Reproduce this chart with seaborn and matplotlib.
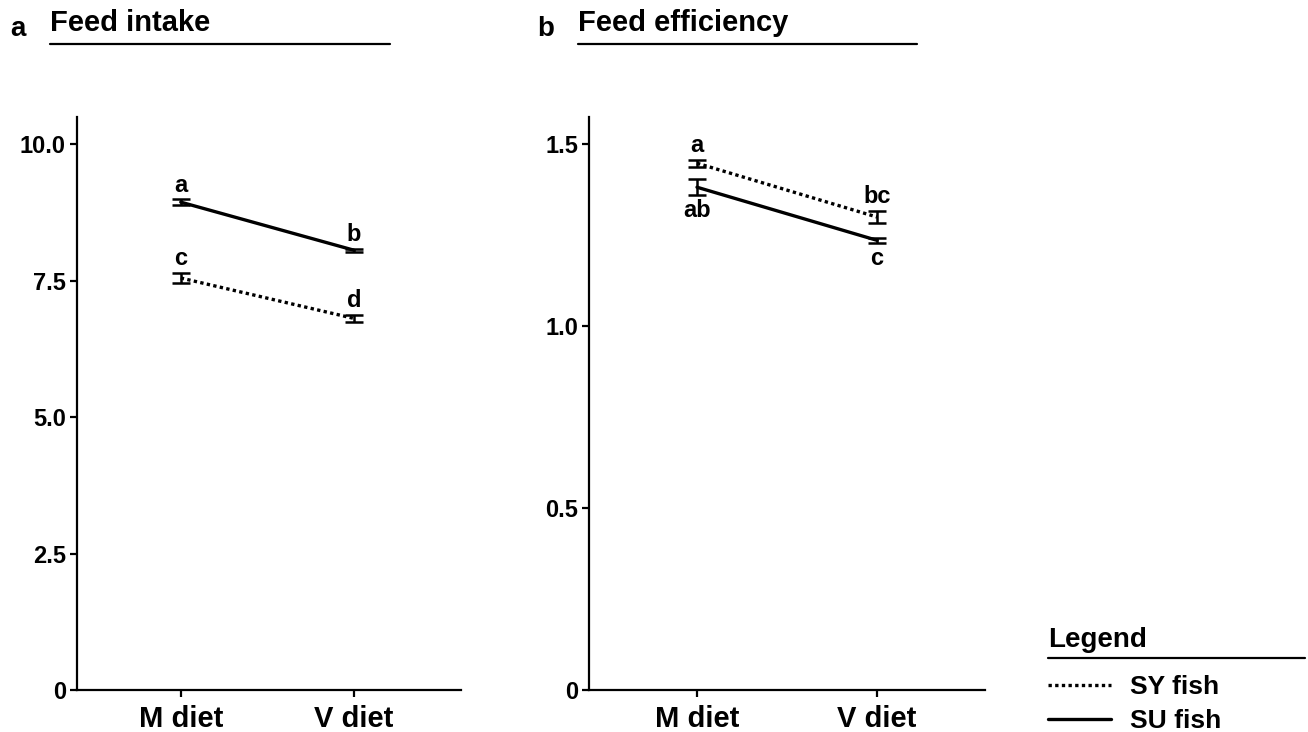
import pandas as pd
import matplotlib.pyplot as plt
import seaborn as sns
from matplotlib.lines import Line2D

# values
diets = ['M diet', 'V diet']
fish = ['SY fish', 'SU fish']

intake_sy = [7.55, 6.81]
intake_sy_se = [0.10, 0.07]
intake_su = [8.94, 8.06]
intake_su_se = [0.05, 0.03]
intake_letters_sy = ['c', 'd']
intake_letters_su = ['a', 'b']

eff_sy = [1.448, 1.300]
eff_sy_se = [0.010, 0.016]
eff_su = [1.382, 1.236]
eff_su_se = [0.022, 0.007]
eff_letters_sy = ['a', 'bc']
eff_letters_su = ['ab', 'c']

sns.set_style('ticks')
plt.rcParams['font.family'] = ['Liberation Sans', 'DejaVu Sans']
plt.rcParams['font.weight'] = 'bold'
for k in ['text.color', 'axes.labelcolor', 'xtick.color', 'ytick.color', 'axes.edgecolor']:
    plt.rcParams[k] = 'black'

W, H = 1308, 732
fig = plt.figure(figsize=(W / 100, H / 100), dpi=100)


def make_df(sy, sy_se, su, su_se):
    return pd.DataFrame({
        'diet': diets * 2,
        'fish': [fish[0]] * 2 + [fish[1]] * 2,
        'value': sy + su,
        'se': sy_se + su_se,
    })


def draw(ax, df, letters_sy, letters_su, above_sy, above_su):
    sns.lineplot(data=df, x='diet', y='value', style='fish', style_order=fish,
                 dashes={'SY fish': (1, 1), 'SU fish': ''}, color='black',
                 linewidth=2.4, ax=ax, legend=True)
    for f, letters, above in [(fish[0], letters_sy, above_sy), (fish[1], letters_su, above_su)]:
        sub = df[df['fish'] == f]
        xs = [diets.index(d) for d in sub['diet']]
        ax.errorbar(xs, sub['value'], yerr=sub['se'], fmt='none', ecolor='black',
                    elinewidth=1.8, capsize=6.5, capthick=1.8, zorder=3)
        for x, v, s, lab, up in zip(xs, sub['value'], sub['se'], letters, above):
            if up:
                ax.annotate(lab, (x, v + s), xytext=(0, 2), textcoords='offset points',
                            ha='center', va='bottom', fontsize=17, fontweight='bold')
            else:
                ax.annotate(lab, (x, v - s), xytext=(0, -3), textcoords='offset points',
                            ha='center', va='top', fontsize=17, fontweight='bold')
    ax.set_xlabel('')
    ax.set_ylabel('')
    for sp in ['top', 'right']:
        ax.spines[sp].set_visible(False)
    for sp in ['left', 'bottom']:
        ax.spines[sp].set_linewidth(1.6)
    ax.tick_params(axis='both', width=1.6, length=5, direction='out', color='black')
    ax.tick_params(axis='x', labelsize=21, pad=6)
    ax.tick_params(axis='y', labelsize=17, pad=3)
    for t in ax.get_xticklabels() + ax.get_yticklabels():
        t.set_fontweight('bold')


top_px, bot_px = 117, 690
ax1 = fig.add_axes([77 / W, 1 - bot_px / H, (461 - 77) / W, (bot_px - top_px) / H])
draw(ax1, make_df(intake_sy, intake_sy_se, intake_su, intake_su_se),
     intake_letters_sy, intake_letters_su, [True, True], [True, True])
ax1.set_xlim(-0.6, 1.62)
ax1.set_ylim(0, 10.5)
ax1.set_yticks([0, 2.5, 5.0, 7.5, 10.0])
ax1.set_yticklabels(['0', '2.5', '5.0', '7.5', '10.0'])

ax2 = fig.add_axes([589 / W, 1 - bot_px / H, (985 - 589) / W, (bot_px - top_px) / H])
draw(ax2, make_df(eff_sy, eff_sy_se, eff_su, eff_su_se),
     eff_letters_sy, eff_letters_su, [True, True], [False, False])
ax2.set_xlim(-0.6, 1.6)
ax2.set_ylim(0, 1.575)
ax2.set_yticks([0, 0.5, 1.0, 1.5])
ax2.set_yticklabels(['0', '0.5', '1.0', '1.5'])

handles, labels = ax2.get_legend_handles_labels()
ax1.get_legend().remove()
ax2.get_legend().remove()

# panel titles with underline
for letter, title, lx, tx, x1 in [('a', 'Feed intake', 10, 50, 390), ('b', 'Feed efficiency', 537, 578, 917)]:
    fig.text(lx / W, 1 - 29 / H, letter, fontsize=20, fontweight='bold', va='center')
    fig.text(tx / W, 1 - 23 / H, title, fontsize=21, fontweight='bold', va='center')
    fig.add_artist(Line2D([tx / W, x1 / W], [1 - 44 / H, 1 - 44 / H], color='black', lw=1.6))

# legend block
fig.text(1048 / W, 1 - 640 / H, 'Legend', fontsize=20, fontweight='bold', va='center')
fig.add_artist(Line2D([1048 / W, 1305 / W], [1 - 658 / H, 1 - 658 / H], color='black', lw=1.6))
leg = fig.legend(handles, labels, loc='upper left', bbox_to_anchor=(1048 / W, 1 - 675 / H),
                 frameon=False, fontsize=19, handlelength=2.4, handletextpad=0.7,
                 labelspacing=0.38, borderaxespad=0, borderpad=0)
for t in leg.get_texts():
    t.set_fontweight('bold')

fig.savefig('out.png', dpi=100)
